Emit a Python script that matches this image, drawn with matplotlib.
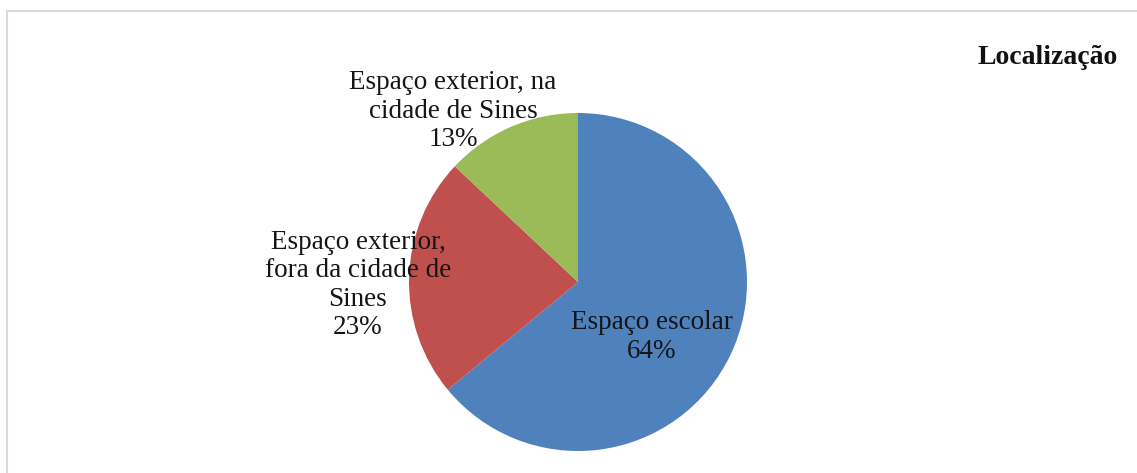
import matplotlib
matplotlib.use("Agg")
import matplotlib.pyplot as plt
from matplotlib.patches import Rectangle

# Data
categories = ["Espaço escolar",
              "Espaço exterior,\nfora da cidade de\nSines",
              "Espaço exterior, na\ncidade de Sines"]
shares = [64, 23, 13]
colors = ["#4F81BD", "#C0504D", "#9BBB59"]
title = "Localização"

W, H = 1137, 473
fig = plt.figure(figsize=(W / 100, H / 100), dpi=100)
ax = fig.add_axes([0, 0, 1, 1])

cx, cy, r = 578, H - 282, 169
wedges, _ = ax.pie(shares, colors=colors, startangle=90, counterclock=False,
                   center=(cx, cy), radius=r,
                   wedgeprops=dict(linewidth=0))
ax.set_xlim(0, W)
ax.set_ylim(0, H)
ax.set_aspect("auto")
ax.axis("off")

font = "Liberation Serif"
label_pos = [(652, H - 337), (358, H - 285), (453, H - 111)]
for (x, y), name, v in zip(label_pos, categories, shares):
    ax.text(x, y, f"{name}\n{v}%", ha="center", va="center",
            fontsize=19.5, family=font, color="#151515", linespacing=1.17)

ax.text(1118, H - 58, title, ha="right", va="center", fontsize=20,
        family=font, fontweight="bold", color="#111111")

# chart frame (right and bottom edges run past the canvas)
ax.add_patch(Rectangle((7, -20), W + 40, H - 11 + 20, fill=False,
                       edgecolor="#d9d9d9", linewidth=1.5))

fig.savefig("out.png", dpi=100, facecolor="white")
